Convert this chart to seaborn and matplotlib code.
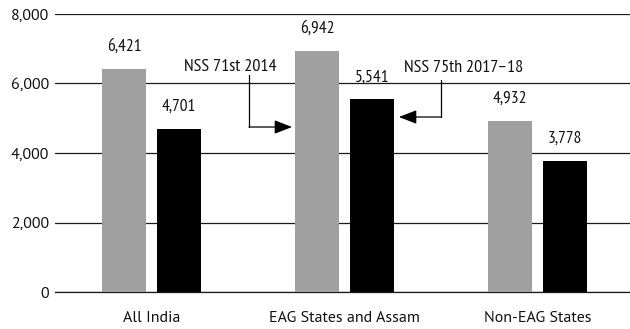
import matplotlib
matplotlib.use("Agg")
import matplotlib.pyplot as plt
import pandas as pd
import seaborn as sns

regions = ["All India", "EAG States and Assam", "Non-EAG States"]
rounds = ["NSS 71st 2014", "NSS 75th 2017\u201318"]
nss71 = [6421, 6942, 4932]
nss75 = [4701, 5541, 3778]
y_ticks = [0, 2000, 4000, 6000, 8000]

df = pd.DataFrame({
    "region": regions * 2,
    "round": [rounds[0]] * 3 + [rounds[1]] * 3,
    "value": nss71 + nss75,
})

sns.set_theme(style="white")
plt.rcParams["font.family"] = ["PT Sans", "DejaVu Sans"]
NARROW = ["PT Sans Narrow", "DejaVu Sans"]
INK = "#111111"
LINE = "#1a1a1a"

fig = plt.figure(figsize=(6.3, 3.29), dpi=100)
ax = fig.add_axes([55 / 630, 37 / 329, 575 / 630, 278 / 329])

sns.barplot(data=df, x="region", y="value", hue="round", order=regions,
            hue_order=rounds, palette=["#a0a0a0", "#000000"], width=0.57,
            gap=0.2, saturation=1, linewidth=0, legend=False, ax=ax, zorder=3)

for cont in ax.containers:
    ax.bar_label(cont, labels=[f"{v:,.0f}" for v in cont.datavalues],
                 padding=10, fontsize=12.5, color=INK, family=NARROW)

ax.set_ylim(0, 8000)
ax.set_xlim(-0.5, 2.479)
ax.set_yticks(y_ticks)
ax.set_yticklabels([f"{t:,}" for t in y_ticks])
ax.yaxis.grid(True, color=LINE, linewidth=0.9, zorder=0)
ax.set_axisbelow(True)
for s in ["left", "right", "top"]:
    ax.spines[s].set_visible(False)
ax.spines["bottom"].set_color(LINE)
ax.spines["bottom"].set_linewidth(0.9)
ax.tick_params(axis="y", length=0, pad=4, labelsize=11.5, labelcolor=INK)
ax.tick_params(axis="x", which="major", length=0, pad=14, labelsize=11.5,
               labelcolor=INK)
ax.set_xticks([-0.5, 0.5, 1.5], minor=True)
ax.tick_params(axis="x", which="minor", length=5, width=0.9, color=LINE,
               direction="out")
ax.set_xlabel("")
ax.set_ylabel("")

arrow = dict(arrowstyle="-|>,head_length=0.9,head_width=0.35", color="black",
             lw=0.9, shrinkA=0, shrinkB=0)
# elbow arrows from each round's label to its bar
ax.text(0.409, 6475, rounds[0], ha="center", va="center", fontsize=13,
        color=INK, family=NARROW)
ax.plot([0.505, 0.505], [6245, 4748], color="black", lw=0.9, zorder=5)
ax.annotate("", xy=(0.728, 4748), xytext=(0.505, 4748), arrowprops=arrow,
            zorder=5)
ax.text(1.617, 6446, rounds[1], ha="center", va="center", fontsize=13,
        color=INK, family=NARROW)
ax.plot([1.5, 1.5], [6101, 5036], color="black", lw=0.9, zorder=5)
ax.annotate("", xy=(1.282, 5036), xytext=(1.5, 5036), arrowprops=arrow,
            zorder=5)

fig.savefig("out.png", dpi=100)
